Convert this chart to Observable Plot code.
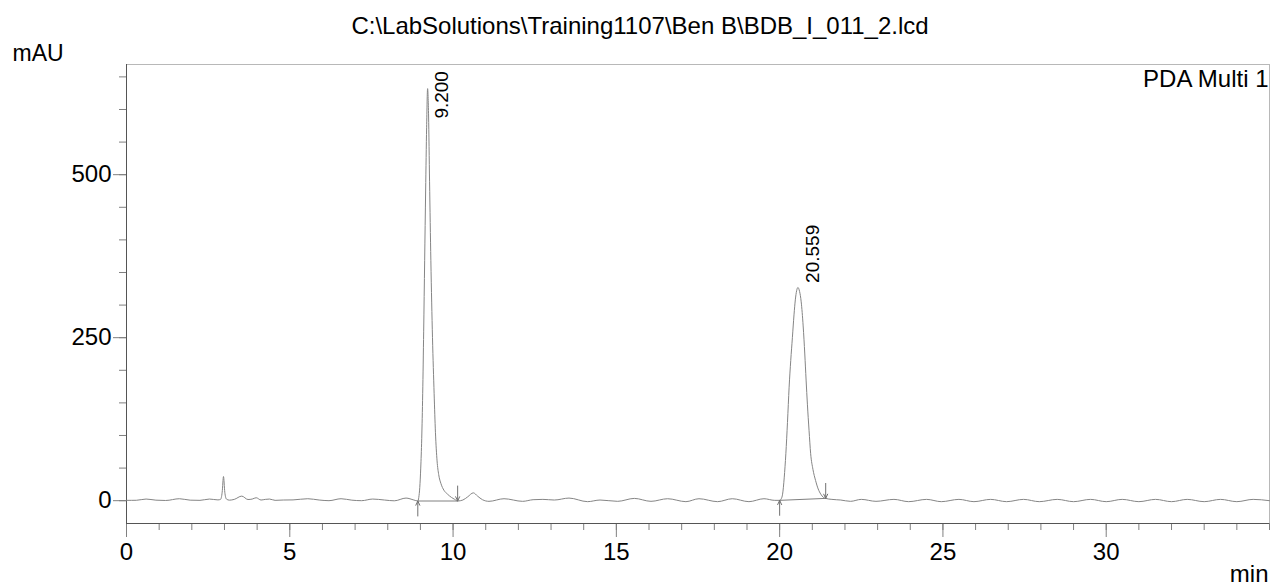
<!DOCTYPE html>
<html><head><meta charset="utf-8">
<script src="https://cdn.jsdelivr.net/npm/d3@7"></script>
<script src="https://cdn.jsdelivr.net/npm/@observablehq/plot@0.6"></script>
<style>html,body{margin:0;padding:0;background:#fff} svg{display:block}</style>
</head><body><div id="chart"></div>
<script>
const title = "C:\\LabSolutions\\Training1107\\Ben B\\BDB_I_011_2.lcd";
const channelLabel = "PDA Multi 1";
const yUnit = "mAU";
const xUnit = "min";

// chromatogram trace (retention time, min / absorbance, mAU)
const time = [
  0.00, 0.30, 0.60, 0.90, 1.20, 1.62, 1.95, 2.25, 2.54, 2.80, 2.88, 2.93, 2.97, 3.01, 3.06, 3.15,
  3.30, 3.53, 3.72, 3.85, 3.97, 4.12, 4.25, 4.38, 4.55, 4.80, 5.10, 5.55, 5.90, 6.20, 6.57, 6.90,
  7.20, 7.54, 7.90, 8.20, 8.56, 8.80, 8.92, 8.95, 8.98, 9.01, 9.04, 9.07, 9.10, 9.13, 9.16, 9.19,
  9.22, 9.25, 9.28, 9.32, 9.37, 9.42, 9.46, 9.51, 9.56, 9.63, 9.72, 9.83, 9.95, 10.05, 10.14, 10.30,
  10.45, 10.62, 10.75, 10.90, 11.10, 11.56, 12.13, 12.45, 12.75, 13.10, 13.55, 14.12, 14.50, 15.04, 15.55, 16.06,
  16.57, 17.13, 17.53, 18.10, 18.55, 19.06, 19.52, 19.85, 20.00, 20.05, 20.09, 20.14, 20.19, 20.24, 20.29, 20.34,
  20.39, 20.44, 20.48, 20.52, 20.56, 20.61, 20.66, 20.72, 20.77, 20.81, 20.85, 20.90, 20.95, 21.02, 21.10, 21.18,
  21.26, 21.34, 21.41, 21.60, 21.87, 22.17, 22.50, 22.95, 23.50, 23.95, 24.50, 24.95, 25.49, 25.95, 26.46, 26.95,
  27.47, 27.95, 28.50, 29.00, 29.52, 30.00, 30.49, 31.00, 31.51, 32.00, 32.48, 33.00, 33.50, 34.00, 34.50, 35.00
];
const absorbance = [
  0.5, 0.6, 2.5, 0.8, 0.3, 3.0, 0.8, 0.5, 2.5, 1.2, 2.0, 13, 37, 13, 2.5, 0.8,
  2.0, 7.0, 1.8, 2.5, 4.5, 1.0, 2.0, 2.5, 0.5, 1.0, 1.2, 3.0, 1.0, 0.0, 3.0, 0.8,
  0.0, 2.5, 1.0, -0.2, 4.0, 1.0, -0.5, 5, 20, 50, 95, 164, 260, 368, 475, 572,
  632, 590, 490, 368, 250, 164, 105, 61, 40, 26, 16, 10, 5, 2, -0.5, 1.0,
  6, 12, 7, 1.5, -1.0, 3.0, -1.0, 1.5, 2.0, 1.0, 4.0, -1.5, 1.0, -1.0, 3.5, -1.0,
  3.0, -1.5, 3.0, -1.5, 3.0, -1.5, 3.0, 0.5, 0.5, 3, 10, 35, 72, 120, 174, 215,
  250, 285, 308, 322, 327, 321, 305, 268, 225, 185, 148, 108, 72, 48, 31, 18,
  10, 5, 3.5, 2.0, 1.0, -1.0, 2.0, -1.0, 2.0, -1.5, 2.0, -1.5, 2.0, -1.5, 2.0, -1.5,
  2.0, -1.5, 2.0, -1.5, 2.0, -1.5, 2.0, -1.5, 2.0, -1.5, 2.0, -1.5, 2.0, -1.5, 2.0, 0.0
];

// detected peaks
const peakTimes = [9.200, 20.559];
const peakHeights = [632, 327];
const peakStartTimes = [8.92, 20.00];
const peakStartLevels = [-0.5, 0.5];
const peakEndTimes = [10.14, 21.41];
const peakEndLevels = [-0.5, 3.5];

// axes
const xDomain = [0, 35];
const yDomain = [-35, 669];
const xMajorTicks = [0, 5, 10, 15, 20, 25, 30];
const xMinorTicks = d3.range(0, 36, 1);
const yMajorTicks = [0, 250, 500];
const yMinorTicks = d3.range(0, 651, 50);

const trace = time.map((t, i) => ({t, v: absorbance[i]}));
const peaks = peakTimes.map((t, i) => ({
  t, h: peakHeights[i],
  t0: peakStartTimes[i], v0: peakStartLevels[i],
  t1: peakEndTimes[i], v1: peakEndLevels[i]
}));

const yMax = yDomain[1];
const arrowLen = 23; // mAU, marker shaft length

const chart = Plot.plot({
  width: 1272, height: 586,
  marginLeft: 126, marginRight: 3, marginTop: 64, marginBottom: 63,
  x: {domain: xDomain},
  y: {domain: yDomain},
  style: {fontFamily: "'Liberation Sans', Arial, sans-serif", fontSize: "24px", color: "black", background: "white", overflow: "visible"},
  marks: [
    Plot.frame({stroke: "#b8b8b8"}),
    Plot.axisX(xMinorTicks, {tickSize: 7, tickFormat: () => "", stroke: "#808080", label: null}),
    Plot.axisX(xMajorTicks, {tickSize: 14, tickPadding: 5, stroke: "#808080", fill: "black", fontSize: 24, label: null}),
    Plot.axisY(yMinorTicks, {tickSize: 7, tickFormat: () => "", stroke: "#808080", label: null}),
    Plot.axisY(yMajorTicks, {tickSize: 13, tickPadding: 2, stroke: "#808080", fill: "black", fontSize: 24, label: null}),
    Plot.ruleX([xDomain[0]], {stroke: "#555"}),
    Plot.ruleY([yDomain[0]], {stroke: "#555"}),
    // integration baselines
    Plot.link(peaks, {x1: "t0", y1: "v0", x2: "t1", y2: "v1", stroke: "#808080", strokeWidth: 1}),
    Plot.line(trace, {x: "t", y: "v", stroke: "#858585", strokeWidth: 1, curve: "monotone-x"}),
    // peak start / end markers
    Plot.arrow(peaks, {x1: "t0", y1: d => d.v0 - arrowLen, x2: "t0", y2: "v0", stroke: "#707070", strokeWidth: 1, headLength: 7, headAngle: 50}),
    Plot.arrow(peaks, {x1: "t1", y1: d => d.v1 + arrowLen, x2: "t1", y2: "v1", stroke: "#707070", strokeWidth: 1, headLength: 7, headAngle: 50}),
    // retention time labels
    Plot.text(peaks, {x: "t", y: d => Math.min(d.h + 7, yMax - 83), text: d => d.t.toFixed(3),
      rotate: -90, textAnchor: "start", lineAnchor: "middle", dx: 15, fontSize: 19, fill: "black"}),
    // chart texts
    Plot.text([title], {text: d => d, frameAnchor: "top", dx: -58, dy: -31, lineAnchor: "bottom", fontSize: 24, fill: "black"}),
    Plot.text([yUnit], {text: d => d, frameAnchor: "top-left", textAnchor: "start", dx: -114, dy: -4, lineAnchor: "bottom", fontSize: 23, fill: "black"}),
    Plot.text([channelLabel], {text: d => d, frameAnchor: "top-right", textAnchor: "end", dx: -1, dy: 22, lineAnchor: "bottom", fontSize: 24, fill: "black"}),
    Plot.text([xUnit], {text: d => d, frameAnchor: "bottom-right", textAnchor: "end", dx: -1, dy: 58, lineAnchor: "bottom", fontSize: 24, fill: "black"})
  ]
});
document.getElementById("chart").append(chart);
</script>
</body></html>
